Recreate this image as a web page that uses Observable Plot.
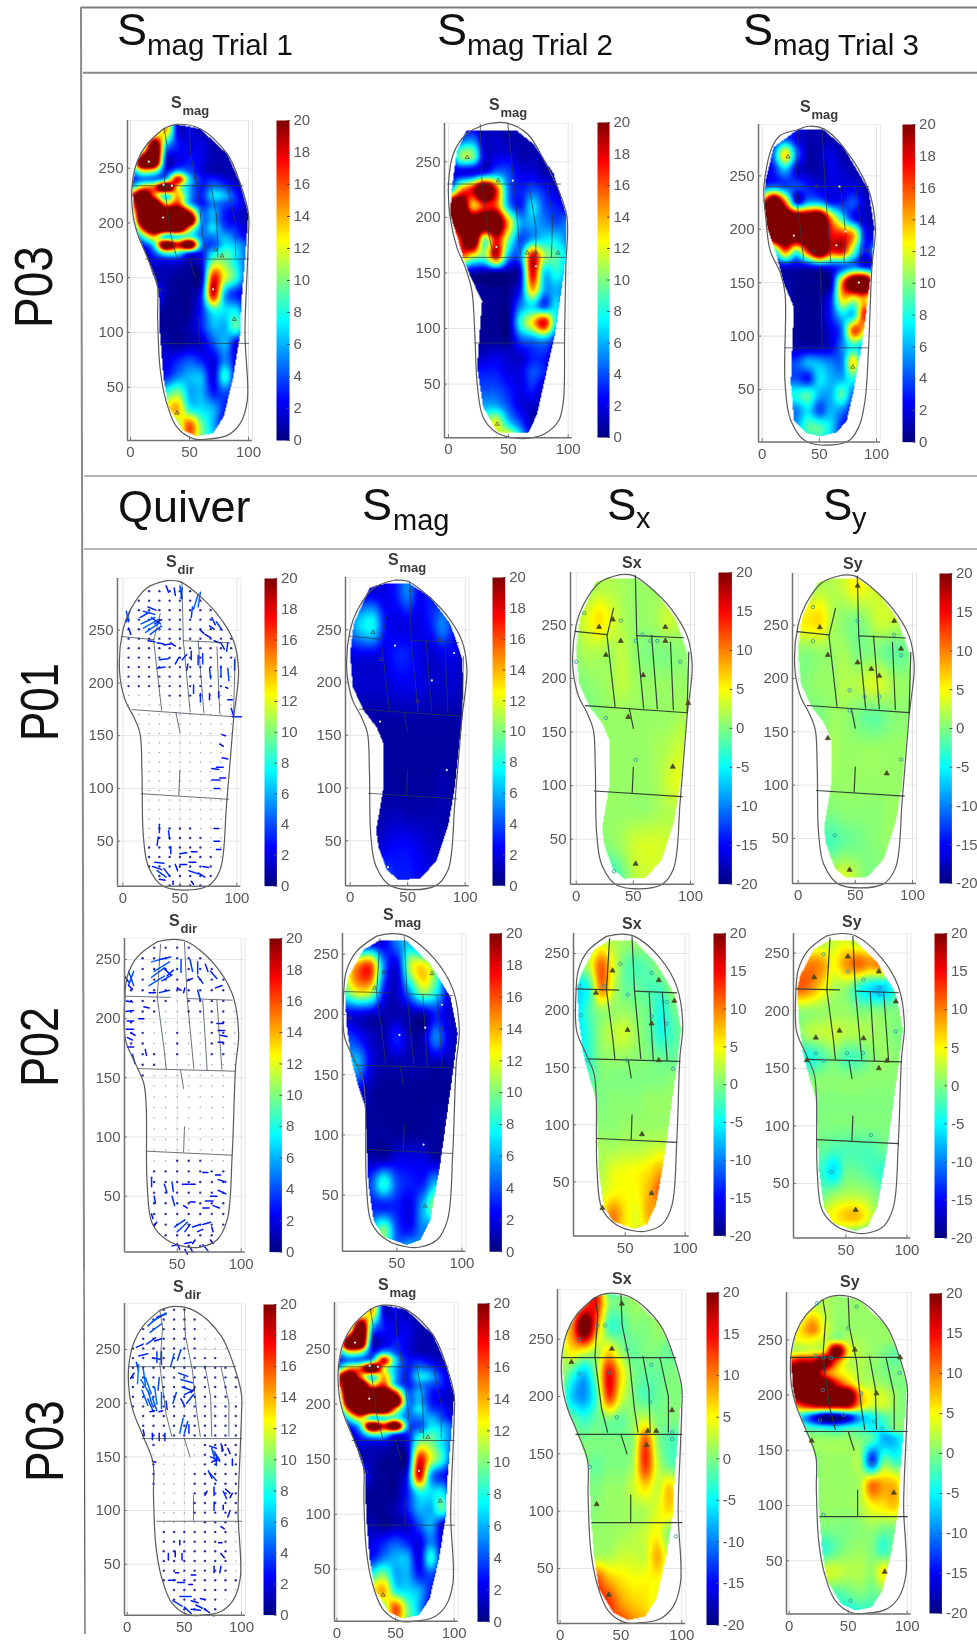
<!DOCTYPE html>
<html><head><meta charset="utf-8">
<script src="https://cdn.jsdelivr.net/npm/d3@7"></script>
<script src="https://cdn.jsdelivr.net/npm/@observablehq/plot@0.6"></script>
<style>
html,body{margin:0;padding:0;background:#fff}
#page{position:relative;width:977px;height:1642px;overflow:hidden;font-family:"Liberation Sans",Arial,sans-serif}
#page svg{position:absolute;overflow:visible;filter:blur(.35px)}
</style></head><body><div id="page"></div>
<script>
// ---------- read-off values (rows top to bottom, columns x = 0,10,...,100) ----------
const gridX = [0,10,20,30,40,50,60,70,80,90,100];
const smagT1Y = [285,270,255,247.5,240,232.5,225,217.5,210,202.5,195,187.5,180,172.5,165,150,135,120,105,90,75,60,45,30,15,0];
const smagT1 = [[1,1,6,14,2,2,1,1,1,1,1],[3,6,19,7,3,2,2,1,1,1,1],[5,19,20,3,2,3,2,1,1,1,1],[4,12,11,3,6,4,2,1,1,1,1],[3,5,5,7,18,7,3,3,2,1,1],[6,14,16,20,13,6,3,5,4,2,1],[16,20,16,8,14,6,3,7,6,3,1],[14,20,20,14,17,7,3,5,4,3,1],[8,20,20,20,20,18,5,6,3,2,1],[3,19,20,20,20,20,6,6,3,2,1],[1,17,20,20,20,14,5,7,4,3,1],[1,8,14,7,8,9,5,5,6,4,2],[1,3,8,19,18,19,6,4,7,6,4],[1,1,4,9,8,4,3,7,9,7,4],[1,1,2,2,2,1,2,10,10,7,4],[1,1,1,1,.5,.5,1,17,12,8,3],[3,3,4,1,.5,.5,3,18,6,3,2],[1,1,1,.5,.5,.5,3,8,7,7,2],[1,1,1,.5,.5,1,3,6,6,9,3],[1,1,1,1,.5,1,1.5,4,6,2,1],[2,2,2,2,3,4,3,2,5,2,1],[3,3,3,3,5,6,6,2,8,2,1],[4,4,4,8,10,6,6,3,4,2,1],[7,7,7,12,14,8,7,6,3,2,1],[8,8,8,8,10,16,10,6,2,1,1],[7,7,7,7,8,14,10,7,3,1,1]];
const smagT2 = [[1,1,1,1,1,1,1,1,1,1,1],[1,4,5,1.5,1.5,1,1,1,1,1,1],[2,10,10,2,2,2,1,1,1,1,1],[2,2,2,3,5,4,2,2,1,1,1],[4,14,18,20,17,5,3,4,3,1.5,1],[20,20,14,17,16,6,3,7,4,3,2],[18,20,20,20,19,14,6,6,5,4,5],[5,18,20,10,18,10,4,6,7,7,5],[5,15,12,10,18,6,5,18,11,9,7],[1,1,1,.5,.5,.5,2,18,7,8,6],[1,1,1,.5,.5,.5,3,14,6,6,5],[1,1,1,.5,.5,.5,5,7,4,7,3],[1,1,1,.5,.5,.5,8,13,18,7,3],[1,1,1,.5,.5,.5,4,5,6,3,1],[1,1,1,1.5,2,1.5,1.5,3,3,1,1],[3,3,3,3,3,2,2,4,3,1,1],[4,4,4,4,4,3,2,3,1,1,1],[6,6,6,6,6,4,2,1.5,1,1,1],[10,10,10,10,12,7,4,1,1,1,1],[10,10,10,10,10,14,8,2,1,1,1]];
const smagT3 = [[1,2,4,2,1,1,1,1,1,1,1],[1,5,13,5,1,1,2,1,1,1,1],[1,3,6,2,1,1,2,1.5,1,1,1],[4,5,4,4,3,2,2,2,2,1,1],[16,20,16,3,6,6,3,3,4,1.5,1],[20,20,20,20,19,20,15,8,3,1.5,1],[12,20,20,20,20,19,18,17,14,3,2],[1,7,16,10,18,20,18,18,10,3,6],[1,1,2,1.5,2,3,3,4,5,3,3],[1,1,1,.5,.5,.5,1,15,19,20,10],[1,1,1,.5,.5,.5,3,13,12,14,6],[1,1,1,.5,.5,.5,3,7,7,17,5],[1,1,1,.5,.5,.5,2,5,16,12,3],[1,1,1,1,1,1,2,5,8,5,1],[4,4,4,4,6,6,5,5,13,3,1],[4,4,4,4,3,7,6,6,8,2,1],[8,8,8,8,9,6,6,9,4,2,1],[5,5,5,5,7,4,6,5,2,1,1],[6,6,6,6,9,9,7,3,2,1,1],[7,7,7,7,7,8,6,3,1,1,1]];
const smagP01 = [[2,2,2,2,3,5,2.5,3,2,1.5,1.5],[5,7,7.5,3,2,2,2,3,5,3,1.5],[2,2,2,2,3,3,2,1.5,2,2,1],[1.5,1.5,1.5,1.5,2,2,2,1.5,1.5,1.5,1],[.8,.8,.8,.8,.8,.8,.8,.8,.8,.8,.8],[.6,.6,.6,.6,.6,.6,.6,.6,.6,.6,.6],[.6,.6,.6,.6,.6,.6,.6,.6,1,.6,.6],[1,1,1,1,1.2,1,1,1,1,.8,.8],[1.5,1.5,1.5,2,2.5,2.5,2,1.5,1.2,1,1],[2,2,3,4,3,3,2.5,2,2,2,2]];
const sxP01 = [[1,1,2,2,1.5,1,1,1,1,1,1],[2,4,6,4,2,1,1,1.5,3,2,1],[1,2,2,1.5,2.5,1,0,0,0,.5,.5],[0,.5,1,1.5,2.5,1.5,1,1,1,1,1],[0,0,.5,1,1,1,1,1,1,1.5,2],[1,1,1,1,1,1,1,1.5,2,3,2],[1,1,1,1,1,1,1,1.5,3,4,2],[1,1,1,1,1,1,1,1.5,2,2,2],[0,0,0,.5,1.5,3,3.5,3.5,3,2,2],[-2,-2,-2,-3,-1,2,3,3,2,2,2]];
const syP01 = [[1,1,2,2,3,5,4,3,2,1,1],[5,6,6,2,.5,0,1,3,3,2,1],[.5,.5,1,1,1.5,0,0,0,-1,-1,0],[0,.5,1,1,2,2,3,3.5,2,1,1],[0,0,0,1,1,0,-1,-1,0,.5,.5],[1,1,1,1.5,1,1,1,1,1,1,1],[1,1,1,1,1,1,1,1,1,1,1],[0,0,0,0,.5,.5,.5,.5,1,1,1],[-2,-2,-2,-2,-1,-.5,0,.5,1,1,1],[2,2,2,2.5,3.5,2,0,0,0,0,0]];
const smagP02 = [[1,1,1,1.5,2,5,6,1.5,1,1,1],[3,10,15,16,5,2,11,13,9,2,1],[3,9,13,12,3,1.5,6,11,8,2,1],[2,2,2,1.5,1,1,1,1,3,1.5,1],[3,4,3,1.5,1,3,1,1,5,2,1],[2,5,6,2,1,1,1,1,1,1,1],[3,3,3,1,.5,.5,.5,.5,.5,.5,.5],[.6,.6,.6,.6,.5,.5,.5,.5,.6,.6,.6],[.6,.6,.6,.6,.6,.6,.6,.6,.6,.6,.6],[1,1,1,1,1,2,2,2,1,1,1],[3,3,3,4,8,4,3,3,6,2,1],[3,3,3,3,3,3,2,6,10,3,1],[4,4,4,6,10,4,3,5,3,2,1],[3,3,3,4,6,5,8,5,3,3,3]];
const sxP02 = [[1,1,1,3,2,1,1,1,1,1,1],[-1,-1,3,11,4,-1,-2,-1,1,1,1],[-5,-6,-3,10,3,-1,-1,-2,-2,1,1],[-6,-6,-2,1,1,1,0,-1,-4,-1,0],[-6,-6,-3,1,2.5,3,1,-1,-4,-2,0],[-4,-5,-3,.5,1,1,.5,0,-1,-1,0],[-3,-3,-2,0,0,0,0,0,0,.5,.5],[0,0,0,0,.5,.5,.5,1,1,1,1],[.5,.5,.5,.5,.5,1,1,1,1,1,1],[1,1,1,1.5,1.5,2,2,2.5,3,2,2],[1,1,1,2,4,4.5,5,6,8,4,2],[1,1,1,3,5,5,5,8,11,4,2],[1,1,2,5,10,6,4,8,4,2,2],[1,1,1,3,5,5,4,3,3,2,2]];
const syP02 = [[1,1,2,2,3,4,2,1,1,1,1],[1,7,10,9,5,9,11,9,10,2,1],[5,11,10,6,2,1,-3,-6,-7,-3,1],[1,1,1,1,1,1,0,0,0,0,.5],[0,0,2,2.5,3,2,2,1.5,1,0,0],[-2,-3,-4,-2,0,-2,-2,0,1,.5,.5],[0,0,0,.5,.5,.5,.5,.5,.5,.5,.5],[0,0,0,0,0,0,0,0,0,0,0],[0,0,0,0,0,0,0,0,0,0,0],[-1,-1,-1,-1,-2,-2,-2,-2,-1,-1,-1],[-3,-3,-3,-3,-6,-1,-1,-2,-3,-2,-1],[-2,-2,-2,-1,1,2,2,1,-1,-1,-1],[0,0,0,3,5,7,7,3,-1,-1,-1],[0,0,0,0,-2,-4,-6,-4,-3,-1,-1]];
const sxP03 = [[2,4,12,14,1,0,1,1,1,1,1],[4,10,19,10,-2,-2,0,0,1,1,1],[2,6,5,2,6,1,-1,0,0,-1,-.5],[2,-3,-7,1,15,6,0,-1,-1,0,0],[0,-7,-9,-2,13,4,0,-2,-1,0,0],[0,-1,-3,-1,0,-1,1,3,0,0,0],[0,0,0,0,0,0,1,12,1,-2,-2],[0,0,0,-1,0,0,2,13,3,-1,-1],[0,0,0,0,1,1,3,6,3,7,1],[0,0,0,.5,1,1,1.5,2,4,6,2],[0,0,1,1,1,1.5,2,3,5,0,0],[1,1,1,2,2,3,3,3,8,2,1],[8,8,8,12,8,6,5,5,5,3,1],[8,8,10,12,13,9,7,6,4,2,1],[5,5,6,8,10,13,10,8,3,2,1]];
const syP03Y = [280,260,250,240,230,220,210,200,190,180,170,160,140,120,100,80,60,40,20,0];
const syP03 = [[1,1,3,2,1,1,1,1,1,1,1],[2,6,10,4,1,1,1,1,1,1,1],[3,5,5,3,2,2,1.5,1,1,1,1],[2,3,4,6,19,6,2,1,0,-1,0],[14,18,18,19,12,3,2,1,0,-1,0],[20,20,20,13,7,4,2,1,0,0,0],[20,20,20,20,16,9,3,2,1,0,0],[18,20,20,20,20,20,9,4,3,1,0],[5,12,16,18,18,18,7,3,3,1,0],[1,-6,-14,-18,-17,-16,-8,-5,-2,0,0],[0,-1,-3,-4,-5,-3,-3,-5,-4,0,0],[0,0,1,1,1,1,0,-2,-8,-7,-3],[0,0,0,1,1,1,1,-13,-1,-3,-1],[0,0,0,1,1,1,2,10,8,7,1],[0,0,0,1,1,1,2,5,6,7,1],[0,0,0,0,0,0,.5,1,0,0,0],[-3,-3,-3,-3,-1,.5,1,0,-3,0,0],[-1,-1,-1,3,3,2,2,1,5,1,0],[-1,-1,-1,-1,-2,-1,0,-1,0,0,0],[-3,-3,-3,-3,-5,-5,-4,-3,-2,-1,-1]];

// arrows of the quiver panels: [x, y, dx, dy]
const quiverP01 = [[3,268,2,-10],[6,268,-3,-10],[5,252,2,-6],[15,262,8,5],[16,256,12,6],[18,252,13,8],[20,248,12,9],[24,246,10,8],[18,268,10,-3],[22,272,7,-3],[25,262,8,-6],[28,256,6,4],[38,292,2,-6],[45,290,1,-7],[50,292,2,-12],[52,290,-1,-10],[62,270,4,14],[66,272,2,14],[60,262,1,10],[78,262,3,-7],[82,258,5,-8],[68,250,3,-3],[72,246,5,-3],[80,240,5,-2],[86,238,3,-6],[92,238,-1,-8],[76,254,4,-3],[22,240,6,-1],[30,238,6,-1],[36,236,6,1],[42,238,4,-3],[32,222,8,1],[30,214,7,1],[46,218,3,6],[52,222,4,5],[56,212,1,6],[60,222,0,8],[66,226,0,-9],[70,218,0,10],[76,214,1,-10],[86,216,0,-10],[92,214,1,-12],[98,222,0,-10],[62,190,0,8],[68,190,0,-8],[76,190,0,-6],[84,192,0,-6],[90,196,2,-1],[92,184,4,0],[95,176,2,-7],[96,168,8,0],[90,150,-3,1],[92,128,-5,1],[88,120,-6,0],[84,118,-6,1],[85,110,5,0],[78,108,7,0],[80,100,5,0],[88,140,-3,2],[32,58,0,8],[30,46,1,8],[40,60,1,-8],[42,45,0,-7],[80,62,4,0],[80,50,5,0],[82,42,4,0],[60,40,5,0],[50,38,6,1],[28,30,8,-1],[26,26,8,-3],[30,22,8,-6],[36,24,5,-7],[32,14,5,-1],[46,28,2,-6],[50,28,6,0],[58,30,6,0],[70,26,5,-1],[58,22,8,-3],[66,20,6,-4],[44,12,0,-3],[60,12,2,-3]];
const quiverP02 = [[30,235,10,8],[28,228,12,8],[32,240,12,8],[30,248,14,4],[36,250,9,2],[38,232,8,5],[40,242,5,-5],[42,236,5,5],[36,222,8,2],[28,222,5,0],[12,240,4,-12],[16,240,-4,-12],[12,228,3,-3],[9,236,3,-5],[10,215,5,-1],[10,206,6,1],[11,198,5,0],[10,191,6,0],[11,184,4,-2],[14,188,3,-2],[11,176,5,0],[15,170,2,-8],[25,174,1,-5],[53,250,0,-11],[60,250,2,-10],[66,248,0,-10],[72,246,2,-6],[76,240,5,-6],[58,232,4,2],[66,236,4,-6],[50,226,3,-2],[56,226,-1,-4],[66,224,2,-8],[80,226,5,2],[86,196,-5,0],[82,190,5,0],[84,186,5,-1],[82,180,4,0],[24,210,4,-1],[20,200,4,0],[30,58,0,8],[32,50,1,-6],[40,60,2,-7],[46,62,1,-8],[46,50,2,-8],[30,35,1,-4],[34,28,-2,-3],[54,60,5,0],[60,60,4,0],[70,70,4,0],[80,68,4,0],[82,64,6,-2],[82,55,6,-3],[76,50,5,0],[72,46,6,0],[78,42,5,-2],[70,40,5,0],[60,45,4,0],[55,42,3,-2],[48,24,8,6],[50,20,8,8],[56,20,4,6],[62,24,6,2],[70,26,6,2],[66,20,4,2],[78,20,-1,4],[46,8,4,1],[56,10,5,1],[62,10,2,3],[50,10,2,-5],[56,5,2,-4],[60,7,2,-4],[70,9,4,-5],[76,13,2,-3]];
const quiverP03 = [[20,266,10,8],[18,272,10,9],[22,276,12,8],[26,280,8,3],[17,255,8,6],[24,258,6,2],[8,252,6,3],[10,244,8,2],[22,242,7,-1],[6,228,-3,-5],[8,238,2,-8],[10,236,-1,-18],[14,232,2,-15],[16,224,5,-15],[13,212,5,-14],[18,212,4,-14],[24,215,2,-16],[28,224,-1,-12],[12,222,8,-14],[18,204,5,-12],[22,205,4,-12],[30,210,0,-15],[34,202,1,-8],[26,238,0,10],[30,236,0,12],[38,234,3,12],[44,240,3,10],[45,228,8,-3],[47,222,10,-3],[48,215,8,-3],[50,208,8,4],[47,204,3,-6],[43,210,-3,-10],[52,200,6,8],[56,210,3,4],[46,172,3,14],[50,172,3,11],[54,172,0,8],[14,175,1,-5],[22,172,0,-6],[28,172,0,-7],[33,172,0,-7],[20,192,4,1],[28,192,3,1],[72,160,6,-2],[73,150,8,-4],[76,155,5,-8],[74,158,3,-12],[78,150,0,-8],[83,160,0,-5],[88,158,2,-5],[92,148,0,-6],[82,162,2,-6],[74,145,5,3],[72,135,6,-7],[74,130,-3,7],[25,145,-3,1],[70,118,-2,-4],[76,122,0,-8],[76,108,0,-8],[84,118,3,-7],[90,116,-4,4],[92,116,-2,-4],[90,100,-2,-6],[84,105,0,-4],[82,85,3,-2],[46,72,0,-4],[48,60,0,-6],[42,62,0,-5],[36,60,0,-6],[82,60,3,-4],[80,70,3,0],[60,40,-4,0],[42,42,3,0],[36,35,6,0],[44,33,6,0],[54,31,3,0],[82,48,-1,-6],[76,48,0,-6],[46,20,10,0],[40,16,8,-5],[50,10,6,-6],[56,16,6,-2],[60,12,6,-3],[64,18,4,-1],[56,8,8,-1],[68,8,4,-3],[72,3,4,-1]];
const latticeX = [5,14,23,32,41,50,59,68,77,86,95];
const latticeY = [8,17,26,35,44,53,62,71,80,89,98,107,116,125,134,143,152,161,170,179,188,197,206,215,224,233,242,251,260,269,278,287];

// foot outlines [x, y]
const outlineP03 = [[28,286],[39,290],[59,286],[82,263],[93,236],[100,208],[100,190],[99,160],[97,99],[99,38],[93,17],[82,6],[65,2.5],[53,3],[39,14],[30,38],[25,68],[23,114],[22.5,145],[14,169],[6,190],[2,208],[1.5,236],[6,257],[14,272]];
const outlineT2 = [[32,284],[48,285],[66,275],[80,251],[91,227],[99,200],[98,155],[97,95],[96,35],[92,17],[80,5],[69,1.5],[55,1.5],[40,6.5],[29,20],[24,50],[22,95],[19.5,134],[14,155],[7,173],[1.4,200],[0,230],[4,257],[15,275]];
const outlineT3 = [[30.6,293],[41,296.5],[54,294],[71,277],[93,237],[99,202],[96,165],[93,87],[90,40],[84.5,15],[74,1],[39,1],[25,21],[20,56],[20,140],[16,159],[7,180],[3,212],[1.5,240],[8.7,277],[16,288]];
const outlineP01 = [[38.6,297],[21,290],[6.4,269],[0,250],[-3,212],[2,183.6],[9.4,168],[15,152],[16.7,117],[18,54],[22.5,25.6],[35.7,7],[73.7,7],[85,22],[91,85.6],[97,164.6],[101.5,212],[97,240],[82.5,265.7],[65,284.7],[50,296]];
const outlineP02 = [[34.4,265],[47.4,267],[57.8,265],[78.6,246.6],[93,221],[98,187.5],[95.6,159],[93,86],[89,29.7],[81,13],[68,7],[58,7],[42,13],[30.5,27],[26.5,60.7],[25.8,125.5],[24,145],[17.4,162],[9.6,182],[9,215.6],[11,235.6],[18.7,252]];

// coloured regions
const heatT1 = [[28,286],[39,290],[59,286],[82,263],[93,236],[100,208],[97,166],[94,129],[93,99],[87,59],[79,23],[70,8],[56,5],[44,11],[32,32],[28,59],[25,99],[24,138],[14,169],[6,190],[3,208],[1.5,236],[6,257],[14,272]];
const heatT2 = [[15,278],[57,278],[71,266],[88,239],[98,203],[98,167],[96,146],[89,95],[79.6,50],[74,23],[67,6.5],[43.5,6.5],[40,8],[29,29],[24,65],[28,125],[19,145],[14,158],[1.4,203],[3,227],[7,260]];
const heatT3 = [[30.6,293],[54,293],[71,277],[93,237],[98,202],[96,165],[87.5,93],[80,49],[74,21],[65.6,10],[51,6],[39,9],[27.7,21],[25,56],[26,84],[27.7,127],[19,149],[13,174],[4.4,202],[1.5,227],[3,246],[10,277]];
const heatP01 = [[17,290],[29,293.5],[52,293.5],[69.5,281],[87,255.6],[97,224],[98.5,198.7],[97,164],[91,100.8],[85.5,66],[75,31],[61,14],[42,13],[32,22],[24.6,44],[22.6,60],[29,100.8],[29,142],[23,157.7],[11.6,173.5],[2.3,195.6],[0,227],[3,255.6]];
const heatP02 = [[36,261],[57.7,261],[75.6,242],[91,214.6],[96.7,184],[93.6,156.6],[83,73.6],[75.6,29],[68,12.7],[57.7,8.6],[39.7,15.5],[32,29],[28,60],[25.6,123],[20.5,140],[15,162],[11.5,190],[10,218],[12.8,231.3],[24,253.4]];

// region boundaries on each foot, polylines of [x, y]
const linesP03 = [[[1.5,234],[95,234]],[[13,167],[100,167]],[[26,90],[100,90]],[[28.6,286],[31,271],[28.6,235],[34,190],[39,169]],[[50,288],[51,262],[57,231],[61,190],[64,169]],[[68,235],[73,206],[74,169]],[[82,234],[89,200],[89,169]],[[50,167],[55,150]],[[58,114],[58,91]]];
const linesT2 = [[[-1,230],[93.7,230]],[[11,164],[98,164]],[[22,87],[96.5,87]],[[26.5,284],[28,230],[33.5,185],[37.7,165]],[[49.6,284],[54.7,230],[60,167]],[[67,230],[73,191],[73,164]],[[82.5,230],[87,200],[86,164]]];
const linesT3 = [[[3,240],[93,240]],[[13,169],[96,169]],[[20,89],[93,89]],[[32,293],[29,240],[36.4,171]],[[52.5,294],[55,240],[60,169]],[[68.5,240],[73,196],[71.5,169]],[[81.6,240],[87.5,196],[85.5,169]],[[51,165],[52.5,90]]];
const linesP01 = [[[-1,244],[27,241]],[[53,240],[94,238]],[[8,174.7],[97,168]],[[16,95],[92.7,89.7]],[[32.7,265.7],[27,240],[34,174]],[[51.8,296],[53,240],[59,172.5]],[[66,240],[71,171.6]],[[82.5,234],[85,171]],[[98.5,224.6],[97,168]],[[46.5,172],[50,153.5]],[[50,117],[49,93.5]]];
const linesP02 = [[[9,219],[44.8,218]],[[58,217],[93,215.6]],[[19,157.8],[95.6,155.6]],[[26.5,88],[93,84.6]],[[37,263],[34.4,218],[39.6,176],[41.4,157.8]],[[55.7,264.5],[57.8,217],[60.4,187.5],[63,158]],[[70,215.6],[73.4,156.5]],[[81,215.6],[85,156.5]],[[52.6,156.5],[55,141]],[[55.7,108.5],[55,87.4]]];

// sensor markers [x, y]
const triT1 = [[55,241],[72,175.6],[77.5,170],[88,112],[25,138.5],[39.4,26.5]];
const cirT1 = [[15.5,256],[35,234],[28,235],[27.6,205],[70,139.4]];
const triT2 = [[15.6,254],[41.4,233],[65.8,168],[73,168],[91.5,168],[40.7,14]];
const cirT2 = [[53.7,233],[40,173.5],[73,156]];
const triT3 = [[22.5,268],[47.5,240],[45,180],[92,180],[79.3,71]];
const cirT3 = [[67.6,240],[27.7,194],[73,198],[65,185],[84.5,150]];
const triSmagP01 = [[19.7,247.7],[52.7,287],[77.7,241],[26.7,222],[58.8,182]];
const cirSmagP01 = [[39,235],[90.4,228],[71,202],[26,163],[84,117],[32.8,25]];
const triSxP01 = [[32,255],[20,248],[78,248],[39,235],[78,235],[26,222],[58.6,203],[98,177],[45.5,164],[84.5,117.6],[52,27]];
const cirSxP01 = [[7,261],[39,254],[58,241],[52,235],[65,235],[71,235],[91,215.6],[0,215.6],[26,163],[52,124],[33,20]];
const triSyP01 = [[52,287],[84,254],[19,248],[90,228],[26,222],[52,215],[64,209],[71,202.5],[26,144],[77.5,111],[45,20.6]];
const cirSyP01 = [[13,267],[52,254],[84,241],[13,235],[90,221.6],[45,189],[58,183],[71,183],[45,170],[90,124],[32,53]];
const triSmagP02 = [[39.7,235],[32.8,222],[77,234],[14,197],[84.6,188],[71.8,41]];
const cirSmagP02 = [[84.6,208],[52,183],[71.8,189],[70.5,92]];
const triSxP02 = [[39.4,235],[78,226.6],[25.6,215.5],[91,208.5],[52,183],[72,188.6],[78,156.5],[64,91.7],[72,40],[31,27]];
const cirSxP02 = [[46,241],[72,233],[32.5,221.6],[12,221.6],[52,214],[84.7,207.6],[13,196],[72,195],[84.7,188.6],[18.6,156.5],[51.4,156.5],[90,149]];
const triSyP02 = [[51.6,247],[77,234],[24,229],[91,208],[25.4,176.6],[44.8,182.6],[64.5,176],[18,157],[83.6,156.6],[77,150],[58,27]];
const cirSyP02 = [[31.7,249],[51.6,234],[64.5,227],[77,220],[78,214],[91,182],[25.4,163],[31.7,156.6],[50.8,163],[64,163],[70.5,92],[37.7,60]];
const triSxP03 = [[50.7,281],[42.5,241.6],[9.3,230],[72,170],[79,170],[92,188],[71,157.6],[30,106],[40,27]];
const cirSxP03 = [[30.7,262],[37,262],[15.6,250],[55,241],[75,227.6],[15.6,220],[41,220.6],[74,195],[46.6,182],[92,169],[92,163],[24.6,138.7],[95,78]];
const triSyP03 = [[55.6,241],[94,234],[74,201.5],[19,158.7],[88.7,111.6],[81,40]];
const cirSyP03 = [[23.7,283],[57,280],[50,260.6],[22,235.6],[29,234],[35.6,233.5],[93.5,220],[28.5,204.5],[61,201.5],[26,177],[46,182],[72,176],[79,170],[70,138.5],[29,91.7],[52,14]];

const ticksMag = [0,2,4,6,8,10,12,14,16,18,20];
const ticksDir = [-20,-15,-10,-5,0,5,10,15,20];
const ticksY = [50,100,150,200,250];
const jetStops = [0,.11,.125,.375,.625,.875,1];
const jetColors = ["#00007f","#0000f0","#0000ff","#00ffff","#ffff00","#ff0000","#7f0000"];

// ---------- layout: pixel calibration of every panel (px of x=0, x=100, y=50, y=250, frame, colourbar) ----------
const panels = [
 {grid:smagT1,yRows:smagT1Y,heat:heatT1,outline:outlineP03,lines:linesP03,tri:triT1,cir:cirT1,kind:"mag",left:127,x0:130,x100:248,y50:386.7,y250:167.7,top:120,bottom:440,bar:[276,289,120,440]},
 {grid:smagT2,yTop:285,yStep:15,heat:heatT2,outline:outlineT2,lines:linesT2,tri:triT2,cir:cirT2,kind:"mag",left:444,x0:448,x100:567.7,y50:383.3,y250:161,top:122.7,bottom:437,bar:[596.7,608.7,122,437]},
 {grid:smagT3,yTop:285,yStep:15,heat:heatT3,outline:outlineT3,lines:linesT3,tri:triT3,cir:cirT3,kind:"mag",left:758,x0:761.7,x100:876,y50:389.3,y250:175.7,top:124.3,bottom:441.7,bar:[901.7,914.3,124,441.7]},
 {quiver:quiverP01,mag:smagP01,yTop:285,yStep:30,outline:outlineP01,lines:linesP01,kind:"mag",left:117.3,x0:122.7,x100:236.7,y50:841,y250:630,top:578.3,bottom:886,bar:[264.3,276.7,578.3,886]},
 {grid:smagP01,yTop:285,yStep:30,heat:heatP01,outline:outlineP01,lines:linesP01,tri:triSmagP01,cir:cirSmagP01,kind:"mag",left:345.3,x0:350,x100:465,y50:840,y250:629,top:576.7,bottom:885,bar:[492.3,505,576.7,885]},
 {grid:sxP01,yTop:285,yStep:30,heat:heatP01,outline:outlineP01,lines:linesP01,tri:triSxP01,cir:cirSxP01,kind:"dir",left:570,x0:575.7,x100:690,y50:839,y250:624.7,top:572.3,bottom:884,bar:[718.3,731.7,572.3,884]},
 {grid:syP01,yTop:285,yStep:30,heat:heatP01,outline:outlineP01,lines:linesP01,tri:triSyP01,cir:cirSyP01,kind:"dir",left:791.7,x0:797.3,x100:911.7,y50:838.3,y250:625,top:573.3,bottom:883.3,bar:[939.3,951.7,573.3,883.3]},
 {quiver:quiverP02,mag:smagP02,yTop:260,yStep:20,outline:outlineP02,lines:linesP02,kind:"mag",left:124,x0:112.7,x100:240.7,y50:1196,y250:959.3,top:938.3,bottom:1251.7,bar:[269.3,281.7,938.3,1252],xt:[50,100]},
 {grid:smagP02,yTop:260,yStep:20,heat:heatP02,outline:outlineP02,lines:linesP02,tri:triSmagP02,cir:cirSmagP02,kind:"mag",left:342.3,x0:331.7,x100:461.7,y50:1195,y250:954,top:933.3,bottom:1251,bar:[489.3,501.7,932.7,1251],xt:[50,100]},
 {grid:sxP02,yTop:260,yStep:20,heat:heatP02,outline:outlineP02,lines:linesP02,tri:triSxP02,cir:cirSxP02,kind:"dir",left:573.3,x0:565,x100:685,y50:1181.7,y250:953.3,top:933.3,bottom:1235.7,bar:[712.7,725,933.3,1235.7],xt:[50,100]},
 {grid:syP02,yTop:260,yStep:20,heat:heatP02,outline:outlineP02,lines:linesP02,tri:triSyP02,cir:cirSyP02,kind:"dir",left:793.3,x0:784.7,x100:906.7,y50:1182.7,y250:952.3,top:932.7,bottom:1237.3,bar:[934.3,946.7,932.7,1237.3],xt:[50,100]},
 {quiver:quiverP03,mag:smagT1,yRows:smagT1Y,outline:outlineP03,lines:linesP03,kind:"mag",left:124,x0:126.7,x100:241,y50:1564,y250:1349.3,top:1303.3,bottom:1615,bar:[263.3,276,1304.3,1615]},
 {grid:smagT1,yRows:smagT1Y,heat:heatT1,outline:outlineP03,lines:linesP03,tri:triT1,cir:cirT1,kind:"mag",left:334.3,x0:336.7,x100:454,y50:1569,y250:1349,top:1302.3,bottom:1621,bar:[477.3,489.3,1302.7,1621]},
 {grid:sxP03,yTop:280,yStep:20,heat:heatT1,outline:outlineP03,lines:linesP03,tri:triSxP03,cir:cirSxP03,kind:"dir",left:556.7,x0:559.3,x100:681,y50:1568.3,y250:1339,top:1289.3,bottom:1623.3,bar:[706,718.3,1291.7,1624.3]},
 {grid:syP03,yRows:syP03Y,heat:heatT1,outline:outlineP03,lines:linesP03,tri:triSyP03,cir:cirSyP03,kind:"dir",left:786,x0:788.7,x100:906.7,y50:1560,y250:1339,top:1291.7,bottom:1613.3,bar:[929.3,941.7,1293.3,1613.3]}
];

const page = document.getElementById("page");
const INK = "#585858";
const colorOf = dom => ({type:"linear",domain:jetStops.map(t=>dom[0]+t*(dom[1]-dom[0])),range:jetColors,clamp:true});
const place = (svg,l,t) => { svg.style.left=l+"px"; svg.style.top=t+"px"; page.appendChild(svg); };
const baseStyle = {background:"none",fontFamily:'"Liberation Sans",Arial,sans-serif',fontSize:"15px",overflow:"visible"};

// Smooth reading of a grid between its read-off values. Values at the colour scale's ends are saturated: the
// picture only shows that they are at least that far out, so they are read as lying beyond the end.
function cubic(a,b,c,d,t){return b+.5*t*(c-a+t*(2*a-5*b+4*c-d+t*(3*(b-c)+d-a)));}
function fieldOf(grid,p){
  const R=grid.length,C=gridX.length;
  const ys=p.yRows||grid.map((_,i)=>p.yTop-i*p.yStep);
  const sat=v=>v>=19?v+6:v<=-17?v-4:v;
  const at=(r,c)=>sat(grid[Math.max(0,Math.min(R-1,r))][Math.max(0,Math.min(C-1,c))]);
  return (x,y)=>{
    let r=0; while(r<R-2&&y<ys[r+1]) r++;
    const tv=(ys[r]-y)/(ys[r]-ys[r+1]);
    const u=x/10,c=Math.floor(u),tu=u-c,col=[];
    for(let i=-1;i<3;i++) col.push(cubic(at(r+i,c-1),at(r+i,c),at(r+i,c+1),at(r+i,c+2),tu));
    return cubic(col[0],col[1],col[2],col[3],tv);
  };
}

function drawPanel(p){
  const kx=(p.x100-p.x0)/100, ky=(p.y50-p.y250)/200;
  const right=p.x100+4;
  const dom=p.kind==="mag"?[0,20]:[-20,20];
  const xd=[(p.left-p.x0)/kx,(right-p.x0)/kx];
  const yd=[50-(p.bottom-p.y50)/ky,50+(p.y50-p.top)/ky];
  const mL=36,mR=16,mT=6,mB=28;
  const marks=[
    Plot.gridX(p.xt||[0,50,100],{stroke:"#e4e4e4",strokeOpacity:1}),
    Plot.gridY(ticksY,{stroke:"#e4e4e4",strokeOpacity:1}),
    Plot.ruleX([xd[1]],{stroke:"#e8e8e8"}),Plot.ruleY([yd[1]],{stroke:"#eeeeee"})
  ];
  if(p.grid){
    const f=fieldOf(p.grid,p);
    marks.push(Plot.raster({x1:xd[0],x2:xd[1],y1:yd[0],y2:yd[1],pixelSize:1,
      fill:(x,y)=>d3.polygonContains(p.heat,[x,y])?f(x,y):NaN}));
  }
  if(p.quiver){
    const f=fieldOf(p.mag,p);
    const dots=d3.cross(latticeX,latticeY).filter(d=>d3.polygonContains(p.outline,d));
    marks.push(Plot.dot(dots.filter(d=>f(d[0],d[1])<1.4),{x:"0",y:"1",r:.75,fill:"#9a9db8",stroke:"none"}));
    marks.push(Plot.dot(dots.filter(d=>f(d[0],d[1])>=1.4),{x:"0",y:"1",r:1.2,fill:"#27339f",stroke:"none"}));
    marks.push(Plot.link(p.quiver,{x1:"0",y1:"1",x2:d=>d[0]+d[2],y2:d=>d[1]+d[3],
      stroke:d=>1.9+Math.hypot(d[2],d[3])/6,strokeWidth:1.5,strokeLinecap:"round"}));
  }
  marks.push(Plot.line(p.outline.concat([p.outline[0]]),{x:"0",y:"1",stroke:"#5a5a5a",strokeWidth:1.2,curve:"catmull-rom"}));
  for(const l of p.lines) marks.push(Plot.line(l,{x:"0",y:"1",stroke:p.kind==="dir"?"#2c3a30":"#2f3a45",strokeWidth:p.kind==="dir"?1.2:.9,strokeOpacity:p.kind==="dir"?.95:.8}));
  if(p.tri) marks.push(Plot.dot(p.tri,{x:"0",y:"1",symbol:"triangle",r:p.kind==="dir"?1.9:1.5,fill:p.kind==="dir"?"#4a4a25":"none",stroke:p.kind==="dir"?"#4a4a25":"#444",strokeWidth:.7}));
  if(p.cir) marks.push(Plot.dot(p.cir,{x:"0",y:"1",r:p.kind==="dir"?1.7:1.1,fill:p.kind==="dir"?"none":"#f2f2f2",stroke:p.kind==="dir"?"#2b8f9f":"none",strokeWidth:.8}));
  marks.push(
    Plot.ruleX([xd[0]],{stroke:"#707070",strokeWidth:1.5}),
    Plot.ruleY([yd[0]],{stroke:"#707070",strokeWidth:1.5}),
    Plot.axisX({ticks:p.xt||[0,50,100],tickSize:-3,tickPadding:9,label:null,stroke:"#707070",fill:INK,tickFormat:d=>String(d)}),
    Plot.axisY({ticks:ticksY,tickSize:-3,tickPadding:7,label:null,stroke:"#707070",fill:INK,tickFormat:d=>String(d)})
  );
  const svg=Plot.plot({
    width:right-p.left+mL+mR,height:p.bottom-p.top+mT+mB,marginLeft:mL,marginRight:mR,marginTop:mT,marginBottom:mB,
    style:baseStyle,x:{domain:xd},y:{domain:yd},color:colorOf(dom),marks});
  place(svg,p.left-mL,p.top-mT);

  // colour bar
  const [bl,br,bt,bb]=p.bar, ticks=p.kind==="mag"?ticksMag:ticksDir;
  const bar=Plot.plot({
    width:br-bl+40,height:bb-bt+14,marginLeft:0,marginRight:40,marginTop:7,marginBottom:7,
    style:baseStyle,x:{domain:[0,1],axis:null},y:{domain:dom},color:colorOf(dom),
    marks:[
      Plot.raster({x1:0,x2:1,y1:dom[0],y2:dom[1],pixelSize:1,fill:(x,y)=>y}),
      Plot.axisY({anchor:"right",ticks,tickSize:-3,tickPadding:7,label:null,stroke:"#555",fill:INK,tickFormat:d=>String(d)})
    ]});
  place(bar,bl,bt-7);
}
panels.forEach(drawPanel);

// ---------- headings and rules ----------
const rules=[[81,7.5,977,7.5,"#808080",2],[83,72.7,977,72.7,"#8a8a8a",2],[84,476,977,476,"#b5b5b5",2],[84,549,977,549,"#b5b5b5",2],[81,7,82,476,"#8a8a8a",2],[82,476,84,1270,"#8a8a8a",2],[84,1270,85,1634,"#555",1.2]];
const headings=[
 ["S",117,45,45],["mag Trial 1",147,55,29.5],["S",437,45,45],["mag Trial 2",467,55,29.5],["S",743,45,45],["mag Trial 3",773,55,29.5],
 ["Quiver",118,522,45],["S",362,520,45],["mag",393,530,29],["S",607,520,44],["x",636,528,29],["S",823,520,44],["y",852,528,29]
];
const sides=[["P03",52,287,82],["P01",58,702,78],["P02",58,1047,80],["P03",63,1441,82]];
const smallTitles=[["S","mag",171,108],["S","mag",489,110],["S","mag",800,112],["S","dir",166,567],["S","mag",388,565],["Sx","",622,568],["Sy","",843,569],["S","dir",169,926],["S","mag",383,920],["Sx","",622,929],["Sy","",842,927],["S","dir",173,1292],["S","mag",378,1290],["Sx","",612,1284],["Sy","",840,1287]];
let o=`<svg width="977" height="1642" style="left:0;top:0" font-family="Liberation Sans, Arial, sans-serif">`;
for(const [a,b,c,d,s,w] of rules) o+=`<line x1="${a}" y1="${b}" x2="${c}" y2="${d}" stroke="${s}" stroke-width="${w}"/>`;
for(const [t,x,y,s] of headings) o+=`<text x="${x}" y="${y}" font-size="${s}" fill="#111">${t}</text>`;
for(const [t,x,y,l] of sides) o+=`<text transform="translate(${x},${y}) rotate(-90)" text-anchor="middle" font-size="53" fill="#111" textLength="${l}" lengthAdjust="spacingAndGlyphs">${t}</text>`;
for(const [t,sub,x,y] of smallTitles){
  o+=`<text x="${x}" y="${y}" font-size="16" font-weight="bold" fill="#3a3a3a">${t}</text>`;
  if(sub) o+=`<text x="${x+11.5}" y="${y+7}" font-size="13" font-weight="bold" fill="#3a3a3a">${sub}</text>`;
}
o+="</svg>";
page.insertAdjacentHTML("afterbegin",o);
</script></body></html>
